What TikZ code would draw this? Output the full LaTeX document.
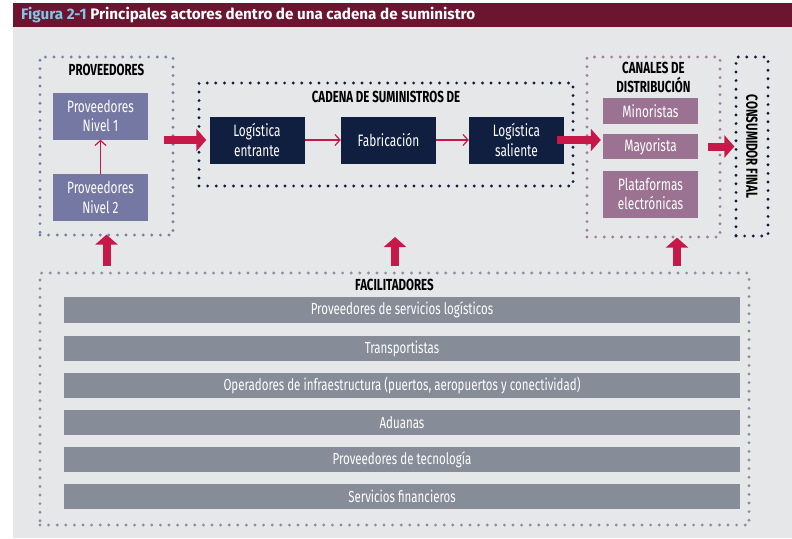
\documentclass[tikz,border=0pt]{standalone}
\usepackage{fontspec}
\setmainfont{Fira Sans}[FakeStretch=0.72]
\newfontfamily\titlefont{Fira Sans}
\usetikzlibrary{arrows.meta,positioning}
\definecolor{FigRed}{RGB}{107,21,48}
\definecolor{FigBlue}{RGB}{128,200,232}
\definecolor{FigBack}{RGB}{230,231,233}
\definecolor{FigArrow}{RGB}{200,24,74}
\definecolor{ProvBlue}{RGB}{116,120,162}
\definecolor{ProvDot}{RGB}{124,128,168}
\definecolor{ChainNavy}{RGB}{16,31,63}
\definecolor{ChanMauve}{RGB}{156,114,146}
\definecolor{ChanDot}{RGB}{165,127,158}
\definecolor{FacGray}{RGB}{134,140,152}
\definecolor{FacDot}{RGB}{139,144,154}

\begin{document}
\begin{tikzpicture}[x=1pt,y=-1pt,>=Stealth]
    \tikzset{dotbox/.style={draw=#1,line width=3.2pt,line cap=round,dash pattern=on 0pt off 8.6pt,inner sep=0pt}}
    \tikzset{title/.style={font=\fontsize{16}{17}\selectfont\bfseries,inner sep=0pt}}
    \tikzset{stage/.style={fill=#1,text=white,inner sep=0pt,minimum width=95pt,minimum height=47pt,align=center,font=\fontsize{16.5}{19.5}\selectfont}}
    \tikzset{bar/.style={fill=FacGray,text=white,inner sep=0pt,minimum width=676pt,minimum height=25.5pt,font=\fontsize{16}{19}\selectfont}}
    \tikzset{bigarrow/.style={FigArrow,line width=8pt,-{Triangle[length=10pt,width=22pt]}}}
    \tikzset{smallarrow/.style={FigArrow,line width=1.2pt,-{Straight Barb[length=5pt,width=11pt]}}}
    \useasboundingbox (0,0) rectangle (792,538);
    \fill[FigBack] (13,27) rectangle (792,538);
    \fill[FigRed] (13,3) rectangle (792,27);
    \node[anchor=west,inner sep=0pt,font=\titlefont\fontsize{15.2}{17}\selectfont\bfseries,text=white] (head) at (21,15.5) {\textcolor{FigBlue}{Figura 2-1} Principales actores dentro de una cadena de suministro};
    % marcos punteados
    \node[dotbox=ProvDot,minimum width=133pt,minimum height=178pt] (provbox) at (106.5,146) {};
    \node[dotbox=ChainNavy,minimum width=374pt,minimum height=103pt] (cadbox) at (386,134.5) {};
    \node[dotbox=ChanDot,minimum width=133pt,minimum height=180pt] (canbox) at (653.5,147) {};
    \node[dotbox=ChainNavy,minimum width=32pt,minimum height=179pt] (consbox) at (752,146.5) {};
    \node[dotbox=FacDot,minimum width=709pt,minimum height=252pt] (facbox) at (394.5,399) {};
    \node[title,below=9pt of provbox.north] (provlbl) {PROVEEDORES};
    \node[title,below=10pt of cadbox.north] (cadlbl) {CADENA DE SUMINISTROS DE};
    \node[title,below=7pt of canbox.north,align=center] (canlbl) {CANALES DE\\[1.5pt]DISTRIBUCIÓN};
    \node[title,rotate=-90] (conslbl) at (consbox) {CONSUMIDOR FINAL};
    \node[title,below=8pt of facbox.north] (faclbl) {FACILITADORES};
    % proveedores
    \node[stage=ProvBlue] (n1) at (100.5,116) {Proveedores\\Nivel 1};
    \node[stage=ProvBlue] (n2) at (100.5,197.5) {Proveedores\\Nivel 2};
    \draw[smallarrow] (n2) -- (n1);
    % cadena
    \node[stage=ChainNavy] (le) at (257,140) {Logística\\entrante};
    \node[stage=ChainNavy] (fab) at (388.5,140) {Fabricación};
    \node[stage=ChainNavy] (ls) at (516.5,140) {Logística\\saliente};
    \draw[smallarrow] (le) -- (fab);
    \draw[smallarrow] (fab) -- (ls);
    % canales
    \node[stage=ChanMauve,minimum height=26pt] (mino) at (650.5,111) {Minoristas};
    \node[stage=ChanMauve,minimum height=25pt] (mayo) at (650.5,146.5) {Mayorista};
    \node[stage=ChanMauve] (plat) at (650.5,194) {Plataformas\\electrónicas};
    % facilitadores
    \node[bar] (f1) at (402,310) {Proveedores de servicios logísticos};
    \node[bar] (f2) at (402,348.5) {Transportistas};
    \node[bar] (f3) at (402,385.5) {Operadores de infraestructura (puertos, aeropuertos y conectividad)};
    \node[bar] (f4) at (402,422.5) {Aduanas};
    \node[bar] (f5) at (402,459.5) {Proveedores de tecnología};
    \node[bar] (f6) at (402,496.5) {Servicios financieros};
    % flechas gruesas
    \coordinate (cadtip) at (395,237);
    \draw[bigarrow] ([xshift=-11pt]provbox.east |- le.west) -- ([xshift=-3pt]le.west);
    \draw[bigarrow] ([xshift=-7pt]ls.east) -- ([xshift=-2pt]mayo.west |- ls.east);
    \draw[bigarrow] ([xshift=-14pt]canbox.east |- mayo) -- (consbox.west |- mayo);
    \draw[bigarrow] ([yshift=5pt]provbox.south |- facbox.north) -- ([yshift=2pt]provbox.south);
    \draw[bigarrow] ([yshift=5pt]cadtip |- facbox.north) -- (cadtip);
    \draw[bigarrow] ([xshift=23.5pt,yshift=5pt]canbox.south |- facbox.north) -- ([xshift=23.5pt,yshift=1pt]canbox.south);
\end{tikzpicture}
\end{document}
